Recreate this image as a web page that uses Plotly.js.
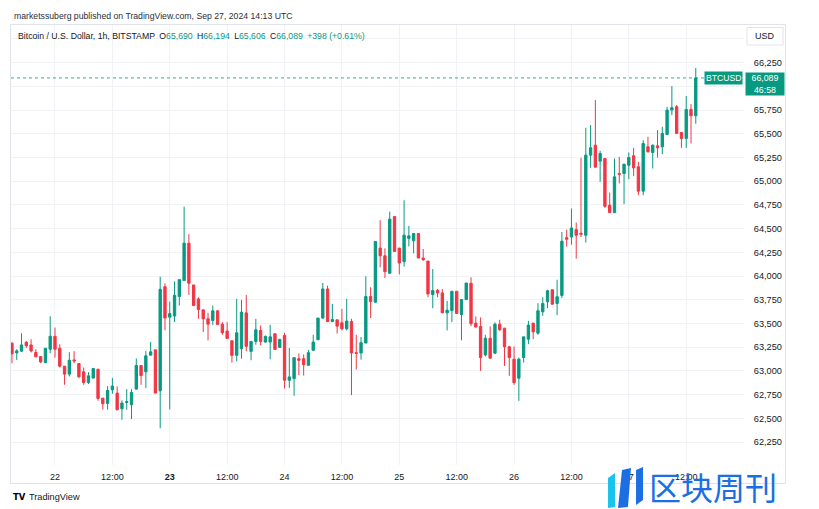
<!DOCTYPE html>
<html>
<head>
<meta charset="utf-8">
<script src="https://cdn.plot.ly/plotly-3.0.1.min.js"></script>
<style>
html,body{margin:0;padding:0;background:#ffffff;}
#chart{width:819px;height:509px;}
</style>
</head>
<body>
<div id="chart"></div>
<script>
// ---- Data: BTC/USD 1h candles, Bitstamp, from 2024-09-21 15:00 UTC ----
const startTime = '2024-09-21T15:00:00Z';
const openP = [
63292,63190,63208,63302,63274,63194,63152,63088,63229,63365,
63239,63050,62966,63116,63078,62990,62878,62924,63018,62713,
62657,62801,62766,62601,62668,62643,62808,63057,62990,63166,
63222,62790,63888,63567,63579,63784,63952,64347,63906,63759,
63644,63549,63532,63633,63493,63420,63318,63164,63234,63612,
63206,63311,63427,63304,63304,63392,63248,63374,62902,62919,
63129,63129,63059,63217,63329,63557,63864,63521,63539,63507,
63444,63521,63192,63189,63294,63784,63724,64295,64214,64029,
64627,64295,64152,64397,64372,64449,64190,64158,63805,63850,
63822,63612,63637,63840,63595,63752,63924,63504,63469,63169,
63345,63187,63493,63451,63254,63124,62923,63141,63335,63504,
63398,63623,63729,63856,63711,63796,64405,64412,64490,64451,
64430,65275,65380,65211,65240,64747,64669,65081,65081,65169,
65268,65152,64895,65363,65303,65373,65363,65493,65750,65785,
65514,65451,65757,65690];
const highP = [
63302,63229,63397,63316,63334,63229,63152,63239,63576,63457,
63281,63050,63197,63208,63078,63036,62987,63032,63018,62713,
62840,62927,62836,62689,62808,62808,63131,63057,63211,63306,
63222,63993,63923,63730,63944,63969,64732,64442,63906,63776,
63644,63612,63689,63640,63514,63514,63318,63759,63749,63801,
63311,63549,63479,63374,63486,63392,63339,63402,63241,63140,
63185,63174,63220,63381,63557,63927,63899,63707,63539,63654,
63759,63549,63381,63357,63998,63882,64365,64589,64292,64680,
64627,64295,64799,64529,64449,64449,64285,64158,64074,63864,
63864,63738,63840,63840,63759,63927,63987,63574,63564,63381,
63469,63511,63539,63451,63264,63257,63141,63359,63528,63504,
63715,63775,63856,63856,63961,64465,64490,64712,64564,65247,
65563,65592,65856,65321,65240,64881,65240,65257,65180,65303,
65352,65204,65433,65468,65387,65539,65574,65785,66003,65803,
65514,65898,65813,66194];
const lowP = [
63081,63116,63201,63243,63194,63148,63081,63081,63187,63141,
63036,62854,62941,63081,62924,62854,62861,62924,62685,62591,
62591,62759,62584,62485,62591,62492,62801,62854,62819,63166,
62766,62394,63428,62594,63515,63690,63952,63801,63685,63549,
63409,63322,63486,63486,63381,63339,63087,63101,63129,63206,
63112,63276,63269,63297,63122,63224,63241,62814,62821,62738,
62955,62951,63059,63217,63329,63549,63514,63514,63395,63427,
63427,62745,63014,63119,63294,63557,63724,64092,63980,64029,
64260,64018,64099,64312,64239,64190,64162,63777,63661,63777,
63612,63427,63514,63605,63322,63752,63472,63462,63000,63152,
63134,63176,63423,63053,62948,62853,62684,63088,63282,63335,
63381,63581,63662,63697,63588,63768,64311,64331,64184,64412,
64353,65141,65148,64993,64719,64669,64662,64976,64757,65021,
65053,64852,64852,65303,65134,65250,65285,65493,65697,65504,
65352,65352,65398,65606];
const closeP = [
63180,63211,63274,63264,63211,63148,63095,63239,63365,63229,
63050,62966,63113,63106,62938,62878,62948,63025,62710,62654,
62794,62840,62591,62661,62675,62773,63057,62952,63159,63201,
62766,63860,63558,63604,63797,63962,64347,63924,63689,63647,
63549,63493,63633,63490,63402,63343,63164,63402,63619,63259,
63311,63434,63311,63364,63360,63227,63332,62902,62937,63140,
63112,63066,63192,63304,63557,63864,63521,63542,63472,63444,
63525,63189,63185,63297,63784,63731,64365,64214,64046,64600,
64260,64138,64431,64424,64449,64190,64172,63812,63847,63822,
63612,63640,63840,63605,63752,63927,63497,63462,63141,63345,
63134,63493,63433,63254,63141,62877,63124,63359,63483,63412,
63634,63711,63845,63704,63782,64367,64388,64507,64430,64441,
65275,65352,65148,65292,64736,64669,65046,65074,65180,65250,
65141,64895,65398,65310,65380,65352,65504,65750,65775,65504,
65451,65757,65690,66089];

// Axis ticks
const xTickVals = ['2024-09-22 00:00','2024-09-22 12:00','2024-09-23 00:00','2024-09-23 12:00',
  '2024-09-24 00:00','2024-09-24 12:00','2024-09-25 00:00','2024-09-25 12:00',
  '2024-09-26 00:00','2024-09-26 12:00','2024-09-27 00:00','2024-09-27 12:00'];
const xTickText = ['22','12:00','<b>23</b>','12:00','24','12:00','25','12:00','26','12:00','27','12:00'];
const yTickVals = [62250,62500,62750,63000,63250,63500,63750,64000,64250,64500,64750,65000,65250,65500,65750,66000,66250,66500];
const yTickText = ['62,250','62,500','62,750','63,000','63,250','63,500','63,750','64,000','64,250','64,500',
  '64,750','65,000','65,250','65,500','65,750','','66,250',''];

// Header texts
const publishText = 'marketssuberg published on TradingView.com, Sep 27, 2024 14:13 UTC';
const symbolText = 'Bitcoin / U.S. Dollar, 1h, BITSTAMP';
const lastOpen = '65,690', lastHigh = '66,194', lastLow = '65,606', lastClose = '66,089', lastChange = '+398 (+0.61%)';
const countdown = '46:58';

// ---- Build ----
const times = [];
const t0 = Date.parse(startTime);
for (let i = 0; i < openP.length; i++) {
  const d = new Date(t0 + i * 3600000);
  const p = n => String(n).padStart(2, '0');
  times.push(d.getUTCFullYear() + '-' + p(d.getUTCMonth() + 1) + '-' + p(d.getUTCDate()) + ' ' + p(d.getUTCHours()) + ':00');
}

const UP = '#089981', DOWN = '#f23645', TXT = '#131722', GRID = '#f0f2f6';
const FONT = 'Liberation Sans, Arial, sans-serif';

// pixel -> paper helpers (plot area: x 11..744, y 25..465)
const L = 11, R = 744, T = 25, B = 465;
const px = v => (v - L) / (R - L);
const py = v => (B - v) / (B - T);

const trace = {
  type: 'candlestick',
  x: times, open: openP, high: highP, low: lowP, close: closeP,
  increasing: {line: {color: UP, width: 1}, fillcolor: UP},
  decreasing: {line: {color: DOWN, width: 1}, fillcolor: DOWN},
  whiskerwidth: 0,
  hoverinfo: 'skip',
  showlegend: false
};

const lastC = closeP[closeP.length - 1];
const G = '<span style="color:' + UP + '">';
const SP = '\u2002';

const logoPath = pts => 'M' + pts.map(p => px(p[0]).toFixed(4) + ',' + py(p[1]).toFixed(4)).join(' L') + ' Z';

const layout = {
  width: 819, height: 509,
  margin: {l: L, r: 819 - R, t: T, b: 509 - B, pad: 0},
  paper_bgcolor: '#ffffff', plot_bgcolor: '#ffffff',
  font: {family: FONT, color: TXT, size: 9},
  boxgap: 0.3,
  xaxis: {
    type: 'date',
    range: ['2024-09-21 14:48', '2024-09-28 00:05'],
    rangeslider: {visible: false},
    tickmode: 'array', tickvals: xTickVals, ticktext: xTickText,
    showgrid: true, gridcolor: GRID, gridwidth: 1,
    zeroline: false, showline: false,
    ticks: 'outside', ticklen: 3, tickcolor: 'rgba(0,0,0,0)',
    tickfont: {size: 9, color: TXT, family: FONT},
    fixedrange: true
  },
  yaxis: {
    side: 'right',
    range: [62008, 66647],
    tickmode: 'array', tickvals: yTickVals, ticktext: yTickText,
    showgrid: true, gridcolor: GRID, gridwidth: 1,
    zeroline: false, showline: false,
    ticks: 'outside', ticklen: 7, tickcolor: 'rgba(0,0,0,0)',
    tickfont: {size: 9.2, color: TXT, family: FONT},
    fixedrange: true
  },
  shapes: [
    // panel border
    {type: 'rect', xref: 'paper', yref: 'paper', x0: px(10.5), x1: px(785.5), y0: py(483.5), y1: py(24.5),
     line: {color: '#e0e3eb', width: 1}, fillcolor: 'rgba(0,0,0,0)', layer: 'below'},
    // last price dotted line
    {type: 'line', xref: 'paper', yref: 'y', x0: 0, x1: px(704), y0: lastC, y1: lastC,
     line: {color: UP, width: 1, dash: 'dot'}, opacity: 0.8},
    // USD box
    {type: 'rect', xref: 'paper', yref: 'paper', x0: px(747), x1: px(783), y0: py(45), y1: py(27.5),
     line: {color: '#e0e3eb', width: 1}, fillcolor: '#ffffff', layer: 'above'},
    // watermark logo
    {type: 'path', xref: 'paper', yref: 'paper', path: logoPath([[608,478],[615,473],[615,507],[608,508]]),
     fillcolor: '#19c3ec', line: {width: 0}, layer: 'above'},
    {type: 'path', xref: 'paper', yref: 'paper', path: logoPath([[622,470],[631,468],[628,507],[618,508]]),
     fillcolor: '#1b6fe3', line: {width: 0}, layer: 'above'},
    {type: 'path', xref: 'paper', yref: 'paper', path: logoPath([[636,470],[643,467],[643,500],[636,505]]),
     fillcolor: '#1b6fe3', line: {width: 0}, layer: 'above'}
  ],
  annotations: [
    {xref: 'paper', yref: 'paper', x: px(12), y: py(16), xanchor: 'left', yanchor: 'middle', showarrow: false,
     text: publishText, font: {size: 8.7, color: '#2a2e39', family: FONT}},
    {xref: 'paper', yref: 'paper', x: px(16), y: py(36), xanchor: 'left', yanchor: 'middle', showarrow: false,
     text: symbolText + SP + 'O' + G + lastOpen + '</span>' + SP + 'H' + G + lastHigh + '</span>' + SP + 'L' + G + lastLow +
           '</span>' + SP + 'C' + G + lastClose + '</span>' + SP + G + lastChange + '</span>',
     font: {size: 8.7, color: TXT, family: FONT}},
    {xref: 'paper', yref: 'paper', x: px(765), y: py(36), xanchor: 'center', yanchor: 'middle', showarrow: false,
     text: 'USD', font: {size: 9, color: TXT, family: FONT}},
    {xref: 'paper', yref: 'y', x: px(743), y: lastC, xanchor: 'right', yanchor: 'middle', showarrow: false,
     text: 'BTCUSD', bgcolor: UP, borderpad: 1, font: {size: 8.6, color: '#ffffff', family: FONT}},
    {xref: 'paper', yref: 'y', x: px(745), y: lastC, xanchor: 'left', yanchor: 'top', yshift: 6, showarrow: false,
     text: lastClose + '<br>' + countdown, bgcolor: UP, width: 36, height: 20, borderpad: 1,
     align: 'center', font: {size: 8.8, color: '#ffffff', family: FONT}},
    // TradingView footer
    {xref: 'paper', yref: 'paper', x: px(11), y: py(497), xanchor: 'left', yanchor: 'middle', showarrow: false,
     text: '<b>TV</b>', font: {size: 8.5, color: '#000000', family: 'DejaVu Sans, sans-serif'}},
    {xref: 'paper', yref: 'paper', x: px(27), y: py(497), xanchor: 'left', yanchor: 'middle', showarrow: false,
     text: 'TradingView', font: {size: 9.2, color: TXT, family: FONT}},
    // watermark text
    {xref: 'paper', yref: 'paper', x: px(648), y: py(486), xanchor: 'left', yanchor: 'middle', showarrow: false,
     text: '区块周刊', borderpad: 0, font: {size: 32, color: '#1b6fe3', family: 'Noto Sans CJK SC, sans-serif'}}
  ]
};

Plotly.newPlot('chart', [trace], layout, {displayModeBar: false, staticPlot: true});
</script>
</body>
</html>
